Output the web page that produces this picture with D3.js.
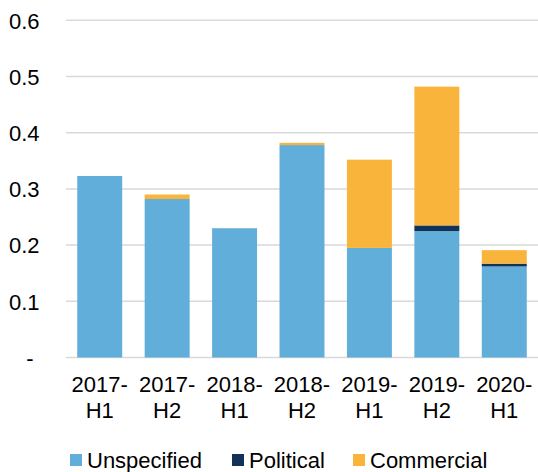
<!DOCTYPE html>
<html>
<head>
<meta charset="utf-8">
<script src="https://cdn.jsdelivr.net/npm/d3@7"></script>
<style>
  html, body { margin: 0; padding: 0; background: #fff; }
  svg { display: block; font-family: "Liberation Sans", Arial, sans-serif; }
</style>
</head>
<body>
<svg id="chart" width="538" height="472"></svg>
<script>
// Half-year periods (two-line labels)
const periods = ["2017-H1", "2017-H2", "2018-H1", "2018-H2", "2019-H1", "2019-H2", "2020-H1"];

// Series values per period
const unspecified = [0.323, 0.282, 0.230, 0.378, 0.195, 0.225, 0.162];
const political   = [0.000, 0.000, 0.000, 0.000, 0.000, 0.010, 0.005];
const commercial  = [0.000, 0.008, 0.000, 0.004, 0.157, 0.247, 0.024];

const seriesNames = ["Unspecified", "Political", "Commercial"];
const seriesColors = ["#62AEDA", "#13325A", "#F9B53B"];

const yTicks = [0, 0.1, 0.2, 0.3, 0.4, 0.5, 0.6];
const yTickLabels = ["-", "0.1", "0.2", "0.3", "0.4", "0.5", "0.6"];

const rows = periods.map((p, i) => ({
  period: p,
  Unspecified: unspecified[i],
  Political: political[i],
  Commercial: commercial[i]
}));

const svg = d3.select("#chart");
const width = 538;
const plotLeft = 66;
const fontSize = 22;

const x = d3.scaleBand()
  .domain(periods)
  .range([plotLeft, width])
  .paddingInner(0.333)
  .paddingOuter(0.1667);

const y = d3.scaleLinear()
  .domain([0, 0.6])
  .range([357.5, 20.3]);

// Horizontal gridlines
svg.append("g")
  .selectAll("line")
  .data(yTicks)
  .join("line")
  .attr("x1", plotLeft)
  .attr("x2", width)
  .attr("y1", d => y(d))
  .attr("y2", d => y(d))
  .attr("stroke", "#d9d9d9")
  .attr("stroke-width", 1.5);

// Y axis labels
const yAxis = d3.axisLeft(y)
  .tickValues(yTicks)
  .tickFormat((d, i) => yTickLabels[i])
  .tickSize(0)
  .tickPadding(0);

const yg = svg.append("g")
  .attr("transform", "translate(39.5,0)")
  .call(yAxis);
yg.select(".domain").remove();
yg.selectAll("text")
  .attr("font-size", fontSize)
  .attr("fill", "#000")
  .attr("font-family", "Liberation Sans, Arial, sans-serif")
  .attr("dy", "0.35em");
yg.selectAll(".tick")
  .filter(d => d === 0)
  .select("text")
  .attr("dx", -6);

// Stacked bars
const stack = d3.stack().keys(seriesNames);
const stacked = stack(rows);

svg.append("g")
  .selectAll("g")
  .data(stacked)
  .join("g")
  .attr("fill", (d, i) => seriesColors[i])
  .selectAll("rect")
  .data(d => d)
  .join("rect")
  .attr("x", d => x(d.data.period))
  .attr("width", x.bandwidth())
  .attr("y", d => y(d[1]))
  .attr("height", d => Math.max(0, y(d[0]) - y(d[1])));

// X axis labels, split over two lines
const xAxis = d3.axisBottom(x).tickSize(0).tickFormat("");
const xg = svg.append("g")
  .attr("transform", `translate(0,${y(0)})`)
  .call(xAxis);
xg.select(".domain").remove();
xg.selectAll(".tick").each(function(d) {
  const parts = d.split("-");
  const t = d3.select(this).append("text")
    .attr("text-anchor", "middle")
    .attr("font-size", fontSize)
    .attr("fill", "#000")
    .attr("font-family", "Liberation Sans, Arial, sans-serif");
  t.append("tspan").attr("x", 0).attr("y", 34.2).text(parts[0] + "-");
  t.append("tspan").attr("x", 0).attr("y", 60.8).text(parts[1]);
});

// Legend
const legendX = [70, 232, 353];
const legend = svg.append("g")
  .selectAll("g")
  .data(seriesNames)
  .join("g")
  .attr("transform", (d, i) => `translate(${legendX[i]},460)`);
legend.append("rect")
  .attr("x", 0)
  .attr("y", -6)
  .attr("width", 12)
  .attr("height", 12)
  .attr("fill", (d, i) => seriesColors[i]);
legend.append("text")
  .attr("x", 17)
  .attr("y", 0)
  .attr("dy", "0.35em")
  .attr("font-size", fontSize)
  .attr("fill", "#000")
  .text(d => d);
</script>
</body>
</html>
